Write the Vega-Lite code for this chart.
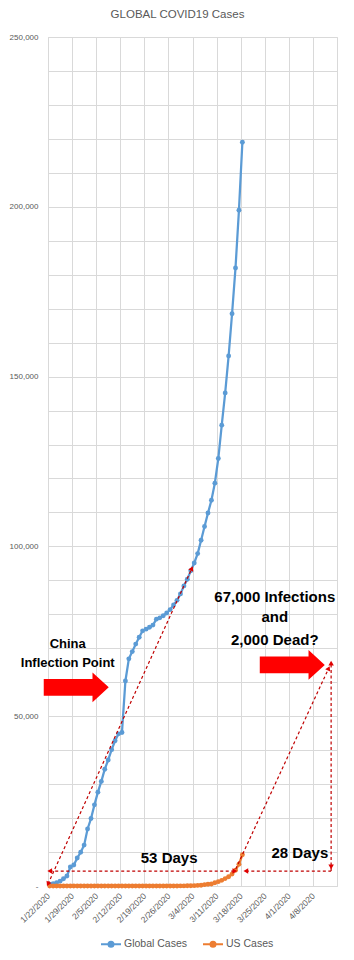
{
"$schema": "https://vega.github.io/schema/vega-lite/v6.json",
"width": 289, "height": 849,
"autosize": {"type": "none"},
"padding": {"left": 48, "top": 37, "right": 17, "bottom": 74},
"background": "white",
"title": {"text": "GLOBAL COVID19 Cases", "fontSize": 11.5, "fontWeight": "normal", "color": "#595959", "font": "Liberation Sans", "anchor": "middle", "frame": "group", "offset": 13, "dx": -15},
"config": {"view": {"stroke": "#d9d9d9", "strokeWidth": 1}, "font": "Liberation Sans"},
"layer": [
{
"data": {"values": [
{"date":"2020/01/22","series":"Global Cases","cases":555},
{"date":"2020/01/23","series":"Global Cases","cases":654},
{"date":"2020/01/24","series":"Global Cases","cases":941},
{"date":"2020/01/25","series":"Global Cases","cases":1434},
{"date":"2020/01/26","series":"Global Cases","cases":2118},
{"date":"2020/01/27","series":"Global Cases","cases":2927},
{"date":"2020/01/28","series":"Global Cases","cases":5578},
{"date":"2020/01/29","series":"Global Cases","cases":6166},
{"date":"2020/01/30","series":"Global Cases","cases":8234},
{"date":"2020/01/31","series":"Global Cases","cases":9927},
{"date":"2020/02/01","series":"Global Cases","cases":12038},
{"date":"2020/02/02","series":"Global Cases","cases":16787},
{"date":"2020/02/03","series":"Global Cases","cases":19881},
{"date":"2020/02/04","series":"Global Cases","cases":23892},
{"date":"2020/02/05","series":"Global Cases","cases":27635},
{"date":"2020/02/06","series":"Global Cases","cases":30794},
{"date":"2020/02/07","series":"Global Cases","cases":34391},
{"date":"2020/02/08","series":"Global Cases","cases":37120},
{"date":"2020/02/09","series":"Global Cases","cases":40150},
{"date":"2020/02/10","series":"Global Cases","cases":42762},
{"date":"2020/02/11","series":"Global Cases","cases":44802},
{"date":"2020/02/12","series":"Global Cases","cases":45221},
{"date":"2020/02/13","series":"Global Cases","cases":60368},
{"date":"2020/02/14","series":"Global Cases","cases":66885},
{"date":"2020/02/15","series":"Global Cases","cases":69030},
{"date":"2020/02/16","series":"Global Cases","cases":71224},
{"date":"2020/02/17","series":"Global Cases","cases":73258},
{"date":"2020/02/18","series":"Global Cases","cases":75136},
{"date":"2020/02/19","series":"Global Cases","cases":75639},
{"date":"2020/02/20","series":"Global Cases","cases":76197},
{"date":"2020/02/21","series":"Global Cases","cases":76819},
{"date":"2020/02/22","series":"Global Cases","cases":78572},
{"date":"2020/02/23","series":"Global Cases","cases":78958},
{"date":"2020/02/24","series":"Global Cases","cases":79561},
{"date":"2020/02/25","series":"Global Cases","cases":80406},
{"date":"2020/02/26","series":"Global Cases","cases":81388},
{"date":"2020/02/27","series":"Global Cases","cases":82746},
{"date":"2020/02/28","series":"Global Cases","cases":84112},
{"date":"2020/02/29","series":"Global Cases","cases":86011},
{"date":"2020/03/01","series":"Global Cases","cases":88369},
{"date":"2020/03/02","series":"Global Cases","cases":90306},
{"date":"2020/03/03","series":"Global Cases","cases":92840},
{"date":"2020/03/04","series":"Global Cases","cases":95120},
{"date":"2020/03/05","series":"Global Cases","cases":97886},
{"date":"2020/03/06","series":"Global Cases","cases":101801},
{"date":"2020/03/07","series":"Global Cases","cases":105847},
{"date":"2020/03/08","series":"Global Cases","cases":109821},
{"date":"2020/03/09","series":"Global Cases","cases":113590},
{"date":"2020/03/10","series":"Global Cases","cases":118620},
{"date":"2020/03/11","series":"Global Cases","cases":125875},
{"date":"2020/03/12","series":"Global Cases","cases":135700},
{"date":"2020/03/13","series":"Global Cases","cases":145205},
{"date":"2020/03/14","series":"Global Cases","cases":156101},
{"date":"2020/03/15","series":"Global Cases","cases":168500},
{"date":"2020/03/16","series":"Global Cases","cases":182000},
{"date":"2020/03/17","series":"Global Cases","cases":199000},
{"date":"2020/03/18","series":"Global Cases","cases":219000},
{"date":"2020/01/22","series":"US Cases","cases":1},
{"date":"2020/01/23","series":"US Cases","cases":1},
{"date":"2020/01/24","series":"US Cases","cases":2},
{"date":"2020/01/25","series":"US Cases","cases":2},
{"date":"2020/01/26","series":"US Cases","cases":5},
{"date":"2020/01/27","series":"US Cases","cases":5},
{"date":"2020/01/28","series":"US Cases","cases":5},
{"date":"2020/01/29","series":"US Cases","cases":5},
{"date":"2020/01/30","series":"US Cases","cases":5},
{"date":"2020/01/31","series":"US Cases","cases":6},
{"date":"2020/02/01","series":"US Cases","cases":8},
{"date":"2020/02/02","series":"US Cases","cases":8},
{"date":"2020/02/03","series":"US Cases","cases":11},
{"date":"2020/02/04","series":"US Cases","cases":11},
{"date":"2020/02/05","series":"US Cases","cases":11},
{"date":"2020/02/06","series":"US Cases","cases":12},
{"date":"2020/02/07","series":"US Cases","cases":12},
{"date":"2020/02/08","series":"US Cases","cases":12},
{"date":"2020/02/09","series":"US Cases","cases":12},
{"date":"2020/02/10","series":"US Cases","cases":12},
{"date":"2020/02/11","series":"US Cases","cases":13},
{"date":"2020/02/12","series":"US Cases","cases":13},
{"date":"2020/02/13","series":"US Cases","cases":14},
{"date":"2020/02/14","series":"US Cases","cases":14},
{"date":"2020/02/15","series":"US Cases","cases":14},
{"date":"2020/02/16","series":"US Cases","cases":14},
{"date":"2020/02/17","series":"US Cases","cases":14},
{"date":"2020/02/18","series":"US Cases","cases":14},
{"date":"2020/02/19","series":"US Cases","cases":14},
{"date":"2020/02/20","series":"US Cases","cases":14},
{"date":"2020/02/21","series":"US Cases","cases":16},
{"date":"2020/02/22","series":"US Cases","cases":16},
{"date":"2020/02/23","series":"US Cases","cases":16},
{"date":"2020/02/24","series":"US Cases","cases":16},
{"date":"2020/02/25","series":"US Cases","cases":16},
{"date":"2020/02/26","series":"US Cases","cases":16},
{"date":"2020/02/27","series":"US Cases","cases":17},
{"date":"2020/02/28","series":"US Cases","cases":17},
{"date":"2020/02/29","series":"US Cases","cases":25},
{"date":"2020/03/01","series":"US Cases","cases":32},
{"date":"2020/03/02","series":"US Cases","cases":55},
{"date":"2020/03/03","series":"US Cases","cases":74},
{"date":"2020/03/04","series":"US Cases","cases":107},
{"date":"2020/03/05","series":"US Cases","cases":184},
{"date":"2020/03/06","series":"US Cases","cases":237},
{"date":"2020/03/07","series":"US Cases","cases":403},
{"date":"2020/03/08","series":"US Cases","cases":519},
{"date":"2020/03/09","series":"US Cases","cases":594},
{"date":"2020/03/10","series":"US Cases","cases":959},
{"date":"2020/03/11","series":"US Cases","cases":1281},
{"date":"2020/03/12","series":"US Cases","cases":1663},
{"date":"2020/03/13","series":"US Cases","cases":2179},
{"date":"2020/03/14","series":"US Cases","cases":2726},
{"date":"2020/03/15","series":"US Cases","cases":3499},
{"date":"2020/03/16","series":"US Cases","cases":4632},
{"date":"2020/03/17","series":"US Cases","cases":6421},
{"date":"2020/03/18","series":"US Cases","cases":9200}
]},
"mark": {"type": "line", "strokeWidth": 2.25, "point": {"filled": true, "size": 24}},
"encoding": {
"x": {"field": "date", "timeUnit": "yearmonthdate", "type": "temporal", "bandPosition": 0.5,
"scale": {"domain": [{"year":2020,"month":1,"date":22},{"year":2020,"month":4,"date":15}], "nice": false},
"axis": {"title": null, "tickCount": 40, "values": [{"year":2020,"month":1,"date":22},{"year":2020,"month":1,"date":29},{"year":2020,"month":2,"date":5},{"year":2020,"month":2,"date":12},{"year":2020,"month":2,"date":19},{"year":2020,"month":2,"date":26},{"year":2020,"month":3,"date":4},{"year":2020,"month":3,"date":11},{"year":2020,"month":3,"date":18},{"year":2020,"month":3,"date":25},{"year":2020,"month":4,"date":1},{"year":2020,"month":4,"date":8}],
"format": "%-m/%-d/%Y", "labelAngle": -45, "labelAlign": "right", "labelBaseline": "middle", "labelPadding": 8, "labelFlush": false, "labelOverlap": false, "labelBound": false,
"grid": true, "gridColor": "#d9d9d9", "domainColor": "#d9d9d9", "ticks": false, "labelColor": "#595959", "labelFontSize": 8.5}},
"y": {"field": "cases", "type": "quantitative", "scale": {"domain": [0, 250000], "nice": false},
"axis": {"title": null, "tickCount": 60, "values": [0,10000,20000,30000,40000,50000,60000,70000,80000,90000,100000,110000,120000,130000,140000,150000,160000,170000,180000,190000,200000,210000,220000,230000,240000,250000],
"labelExpr": "datum.value == 0 ? '-\u2002' : (datum.value % 50000 == 0 ? format(datum.value, ',') : '')",
"labelOverlap": false, "labelFlush": false, "labelBound": false,
"domain": false, "ticks": false, "gridColor": "#d9d9d9", "labelColor": "#595959", "labelFontSize": 8, "labelPadding": 10}},
"color": {"field": "series", "type": "nominal", "scale": {"domain": ["Global Cases", "US Cases"], "range": ["#5b9bd5", "#ed7d31"]},
"legend": {"title": null, "orient": "none", "legendX": 52, "legendY": 896, "direction": "horizontal", "symbolType": "M-1,0L1,0M-0.25,0A0.25,0.25,0,1,0,0.25,0A0.25,0.25,0,1,0,-0.25,0", "symbolSize": 400, "symbolStrokeWidth": 2, "labelFontSize": 10.5, "labelColor": "#595959", "columnPadding": 11, "labelOffset": 2}}
}
},
{
"data": {"values": [
{"seg":"a","date":"2020/01/22 00:00","value":600},
{"seg":"a","date":"2020/03/03 19:00","value":93500},
{"seg":"b","date":"2020/01/22 12:00","value":4400},
{"seg":"b","date":"2020/03/16 07:00","value":4400},
{"seg":"c","date":"2020/03/19 12:00","value":4400},
{"seg":"c","date":"2020/04/13 07:00","value":4400},
{"seg":"d","date":"2020/04/13 07:00","value":4400},
{"seg":"d","date":"2020/04/13 07:00","value":65600},
{"seg":"e","date":"2020/03/16 14:00","value":5000},
{"seg":"e","date":"2020/04/12 14:00","value":64100}
]},
"mark": {"type": "line", "color": "#c00000", "strokeWidth": 1.2, "strokeDash": [3, 2.5]},
"encoding": {"x": {"field": "date", "type": "temporal"}, "y": {"field": "value", "type": "quantitative"}, "detail": {"field": "seg"}}
},
{
"data": {"values": [{"date":"2020/03/03 19:00","value":93500},{"date":"2020/04/12 14:00","value":64100}]},
"mark": {"type": "point", "shape": "triangle-up", "angle": 25, "filled": true, "color": "#e00000", "size": 30, "opacity": 1},
"encoding": {"x": {"field": "date", "type": "temporal"}, "y": {"field": "value", "type": "quantitative"}}
},
{
"data": {"values": [{"date":"2020/01/22 00:00","value":600}]},
"mark": {"type": "point", "shape": "triangle-up", "angle": 205, "filled": true, "color": "#e00000", "size": 30, "opacity": 1},
"encoding": {"x": {"field": "date", "type": "temporal"}, "y": {"field": "value", "type": "quantitative"}}
},
{
"data": {"values": [{"date":"2020/01/22 12:00","value":4400},{"date":"2020/03/19 12:00","value":4400}]},
"mark": {"type": "point", "shape": "triangle-left", "filled": true, "color": "#e00000", "size": 30, "opacity": 1},
"encoding": {"x": {"field": "date", "type": "temporal"}, "y": {"field": "value", "type": "quantitative"}}
},
{
"data": {"values": [{"date":"2020/03/16 07:00","value":4400}]},
"mark": {"type": "point", "shape": "triangle-right", "filled": true, "color": "#e00000", "size": 30, "opacity": 1},
"encoding": {"x": {"field": "date", "type": "temporal"}, "y": {"field": "value", "type": "quantitative"}}
},
{
"data": {"values": [{"date":"2020/04/13 07:00","value":65600}]},
"mark": {"type": "point", "shape": "triangle-up", "filled": true, "color": "#e00000", "size": 30, "opacity": 1},
"encoding": {"x": {"field": "date", "type": "temporal"}, "y": {"field": "value", "type": "quantitative"}}
},
{
"data": {"values": [{"date":"2020/04/13 07:00","value":5600}]},
"mark": {"type": "point", "shape": "triangle-down", "filled": true, "color": "#e00000", "size": 30, "opacity": 1},
"encoding": {"x": {"field": "date", "type": "temporal"}, "y": {"field": "value", "type": "quantitative"}}
},
{
"data": {"values": [{"date":"2020/01/30 05:00","value":58500},{"date":"2020/04/02 00:00","value":65100}]},
"mark": {"type": "point", "shape": "M-1,-0.26L0.5,-0.26L0.5,-0.46L1,0L0.5,0.46L0.5,0.26L-1,0.26Z", "filled": true, "color": "#ff0000", "size": 4225, "opacity": 1, "strokeWidth": 0},
"encoding": {"x": {"field": "date", "type": "temporal"}, "y": {"field": "value", "type": "quantitative"}}
},
{
"data": {"values": [{"label":"China","date":"2020/01/27 17:30","value":71200},{"label":"Inflection Point","date":"2020/01/27 17:30","value":65600}]},
"mark": {"type": "text", "font": "Liberation Sans", "fontWeight": "bold", "fontSize": 13, "color": "#000000", "baseline": "middle", "align": "center"},
"encoding": {"x": {"field": "date", "type": "temporal"}, "y": {"field": "value", "type": "quantitative"}, "text": {"field": "label"}}
},
{
"data": {"values": [{"label":"67,000 Infections","date":"2020/03/27 22:00","value":85000},{"label":"and","date":"2020/03/27 22:00","value":79100},{"label":"2,000 Dead?","date":"2020/03/27 22:00","value":72400},{"label":"53 Days","date":"2020/02/26 05:00","value":8200},{"label":"28 Days","date":"2020/04/04 05:00","value":9700}]},
"mark": {"type": "text", "font": "Liberation Sans", "fontWeight": "bold", "fontSize": 15, "color": "#000000", "baseline": "middle", "align": "center"},
"encoding": {"x": {"field": "date", "type": "temporal"}, "y": {"field": "value", "type": "quantitative"}, "text": {"field": "label"}}
}
]
}
